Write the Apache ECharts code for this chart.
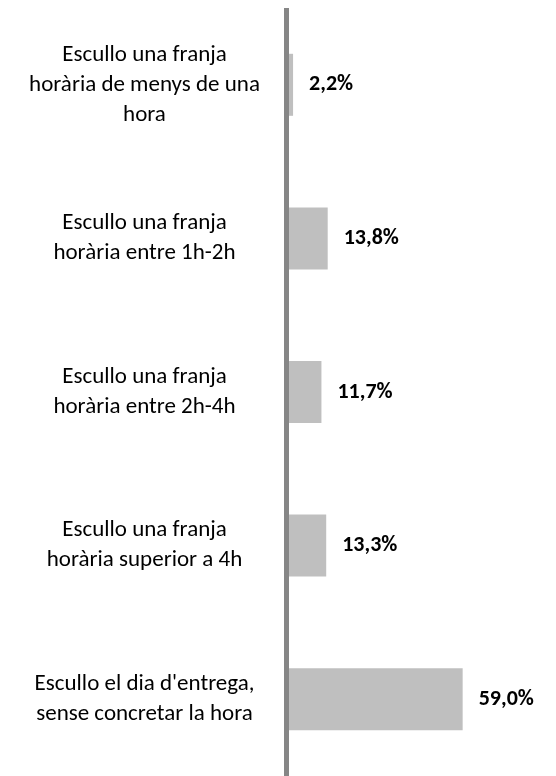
<!DOCTYPE html>
<html>
<head>
<meta charset="utf-8">
<script src="https://cdn.jsdelivr.net/npm/echarts@6/dist/echarts.min.js"></script>
<style>
  html, body { margin: 0; padding: 0; background: #ffffff; }
  #chart { width: 556px; height: 776px; }
</style>
</head>
<body>
<div id="chart"></div>
<script>
const categories = [
  "Escullo una franja\nhorària de menys de una\nhora",
  "Escullo una franja\nhorària entre 1h-2h",
  "Escullo una franja\nhorària entre 2h-4h",
  "Escullo una franja\nhorària superior a 4h",
  "Escullo el dia d'entrega,\nsense concretar la hora"
];
const values = [2.2, 13.8, 11.7, 13.3, 59.0];

const FONT = "Carlito, Lato, 'Noto Sans', sans-serif";

const chart = echarts.init(document.getElementById('chart'), null, { renderer: 'canvas' });
chart.setOption({
  animation: false,
  backgroundColor: '#ffffff',
  grid: { left: 286.5, top: 8, width: 209, bottom: -4, containLabel: false },
  xAxis: {
    type: 'value', min: 0, max: 70,
    show: false
  },
  yAxis: {
    type: 'category',
    inverse: true,
    data: categories,
    z: 5,
    axisLine: { show: true, lineStyle: { color: '#868686', width: 5, cap: 'butt' } },
    axisTick: { show: false },
    splitLine: { show: false },
    axisLabel: {
      align: 'center',
      margin: 142,
      fontFamily: FONT,
      fontSize: 23,
      lineHeight: 30,
      color: '#000000'
    }
  },
  series: [{
    type: 'bar',
    data: values,
    barWidth: 62,
    itemStyle: { color: '#bfbfbf' },
    label: {
      show: true,
      position: 'right',
      distance: 16,
      fontFamily: FONT,
      fontWeight: 'bold',
      fontSize: 22,
      color: '#000000',
      formatter: p => p.value.toFixed(1).replace('.', ',') + '%'
    }
  }]
});
</script>
</body>
</html>
